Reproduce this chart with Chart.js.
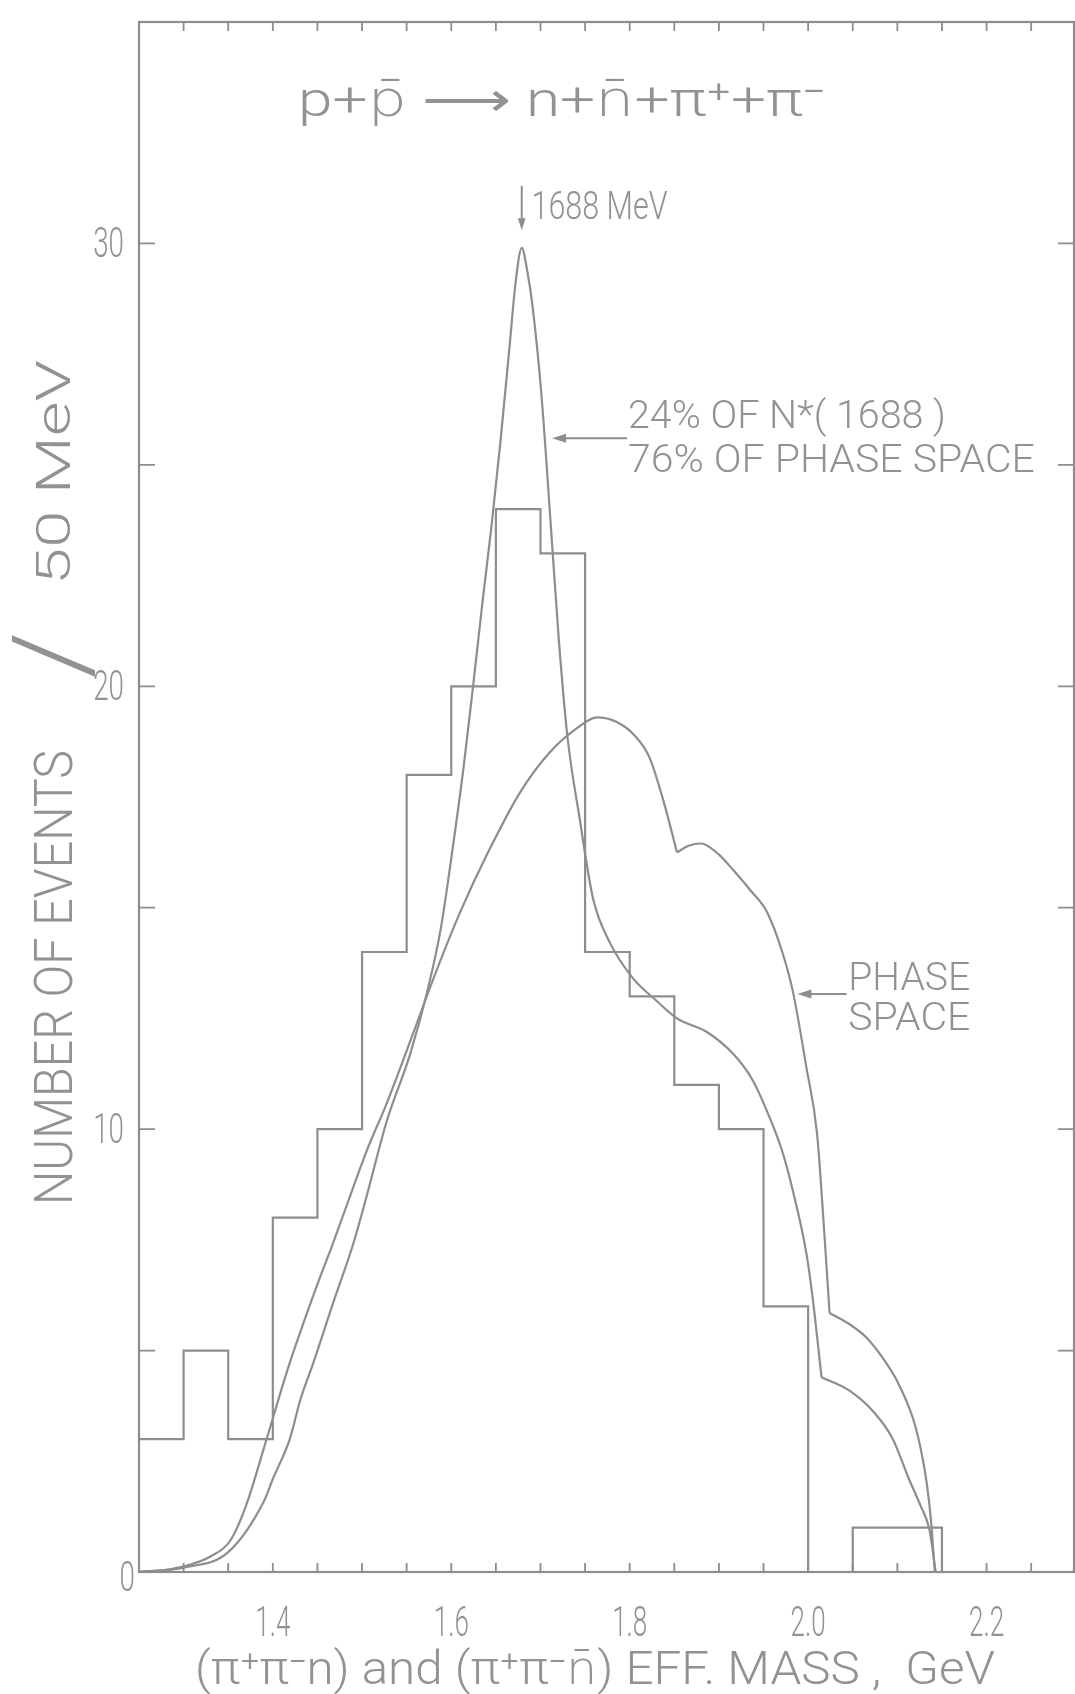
<!DOCTYPE html>
<html>
<head>
<meta charset="utf-8">
<title>p p̄ → n n̄ π+ π− : (π+π−n) and (π+π−n̄) effective mass</title>
<script src="https://cdn.jsdelivr.net/npm/chart.js@4.4.1/dist/chart.umd.min.js"></script>
<style>
html,body{margin:0;padding:0;background:#ffffff;}
#box{position:relative;width:1075px;height:1694px;}
canvas{display:block;}
</style>
</head>
<body>
<div id="box"><canvas id="chart" width="1075" height="1694"></canvas></div>
<script>
// ---------------- data ----------------
// histogram: left edge of each 50 MeV bin (GeV) and number of events in it
const binEdges    = [1.25,1.30,1.35,1.40,1.45,1.50,1.55,1.60,1.65,1.70,1.75,1.80,1.85,1.90,1.95,2.00,2.05,2.10,2.15];
const eventCounts = [3,   5,   3,   8,   10,  14,  18,  20,  24,  23,  14,  13,  11,  10,  6,   0,   1,   1,   0];

// pure phase-space curve
const psMass   = [1.250,1.280,1.305,1.330,1.352,1.370,1.393,1.417,1.450,1.467,1.485,1.505,1.528,1.558,1.580,1.610,1.640,1.677,1.710,1.744,1.763,1.785,1.805,1.822,1.838,1.853,
                  1.866,1.880,1.900,1.916,1.935,1.954,1.971,1.983,1.998,2.010,2.017,2.024,
                  2.046,2.065,2.083,2.100,2.117,2.126,2.133,2.138,2.142];
const psEvents = [0,0.05,0.15,0.35,0.7,1.5,3.0,4.6,6.5,7.4,8.4,9.5,10.6,12.2,13.4,14.9,16.2,17.6,18.5,19.1,19.3,19.2,18.9,18.4,17.4,16.25,
                  16.4,16.45,16.2,15.85,15.4,14.9,14.0,13.1,11.4,9.9,8.0,5.85,
                  5.6,5.3,4.85,4.3,3.5,2.8,2.0,1.1,0];
const psKinks  = [1.853, 2.024];

// 24% N*(1688) + 76% phase space curve
const fitMass   = [1.250,1.300,1.350,1.390,1.400,1.419,1.431,1.445,1.468,1.490,1.504,1.528,1.554,1.573,1.588,1.602,1.614,1.625,1.635,1.645,1.655,1.665,1.672,1.679,1.685,1.691,1.701,1.711,1.720,1.730,1.744,1.759,1.778,1.804,1.830,1.853,1.886,1.916,1.938,1.954,1.971,1.983,1.998,2.005,2.015,
                   2.046,2.074,2.095,2.113,2.126,2.136,2.143];
const fitEvents = [0,0.1,0.45,1.6,2.1,3.0,3.9,4.7,6.1,7.4,8.4,10.2,11.7,13.1,14.5,16.4,18.2,20.1,21.9,23.6,25.5,27.6,29.1,29.9,29.4,28.6,26.6,23.8,21.2,18.9,17.0,15.2,14.2,13.4,12.9,12.5,12.2,11.7,11.1,10.4,9.5,8.6,7.2,6.2,4.4,
                   4.1,3.6,3.0,2.1,1.5,0.95,0];
const fitKinks  = [2.015];

// axes
const xRange = [1.25, 2.298];
const yRange = [0, 35];
const xTickLabels = [1.4, 1.6, 1.8, 2.0, 2.2];
const yTickLabels = [0, 10, 20, 30];
const xMinorStep = 0.05;
const yMinorStep = 5;

// ---------------- styling ----------------
const INK = '#8d8d8d';
const TXT = '#929292';
const FONT = 'Roboto, "DejaVu Sans", "Liberation Sans", sans-serif';

function pairs(xs, ys) { return xs.map((x, i) => ({ x: x, y: ys[i] })); }
function splitAt(points, kinks) {
  const segs = [[]];
  points.forEach(p => {
    segs[segs.length - 1].push(p);
    if (kinks.some(k => Math.abs(k - p.x) < 1e-9)) segs.push([p]);
  });
  return segs.filter(s => s.length > 1);
}
function curveSet(points) {
  return { data: points, showLine: true, borderColor: INK, borderWidth: 2.2, pointRadius: 0,
           cubicInterpolationMode: 'monotone', fill: false, clip: 6 };
}

const datasets = [];
datasets.push({ data: pairs(binEdges, eventCounts), showLine: true, stepped: 'before',
                borderColor: INK, borderWidth: 2.2, pointRadius: 0, fill: false, clip: 6 });
splitAt(pairs(psMass, psEvents), psKinks).forEach(s => datasets.push(curveSet(s)));
splitAt(pairs(fitMass, fitEvents), fitKinks).forEach(s => datasets.push(curveSet(s)));

function label(ctx, str, x, y, o) {
  ctx.save();
  ctx.font = (o.weight || '300') + ' ' + o.size + 'px ' + FONT;
  ctx.fillStyle = o.color || TXT;
  ctx.textBaseline = o.baseline || 'alphabetic';
  const natural = ctx.measureText(str).width;
  const sx = o.width ? o.width / natural : (o.squeeze || 1);
  ctx.translate(x, y);
  if (o.rotate) ctx.rotate(o.rotate);
  ctx.scale(sx, 1);
  ctx.textAlign = o.align || 'left';
  ctx.fillText(str, 0, 0);
  ctx.restore();
}
function arrow(ctx, x1, y1, x2, y2, head) {
  const a = Math.atan2(y2 - y1, x2 - x1);
  ctx.save();
  ctx.strokeStyle = INK; ctx.fillStyle = INK; ctx.lineWidth = 2;
  ctx.beginPath(); ctx.moveTo(x1, y1); ctx.lineTo(x2 - Math.cos(a) * head * 0.6, y2 - Math.sin(a) * head * 0.6); ctx.stroke();
  ctx.beginPath();
  ctx.moveTo(x2, y2);
  ctx.lineTo(x2 - head * Math.cos(a) + head * 0.32 * Math.sin(a), y2 - head * Math.sin(a) - head * 0.32 * Math.cos(a));
  ctx.lineTo(x2 - head * Math.cos(a) - head * 0.32 * Math.sin(a), y2 - head * Math.sin(a) + head * 0.32 * Math.cos(a));
  ctx.closePath(); ctx.fill();
  ctx.restore();
}

const paper = {
  id: 'paper',
  beforeDraw(chart) {
    const c = chart.ctx;
    c.save(); c.fillStyle = '#ffffff'; c.fillRect(0, 0, chart.width, chart.height); c.restore();
  },
  afterDatasetsDraw(chart) {
    const c = chart.ctx, a = chart.chartArea, X = chart.scales.x, Y = chart.scales.y;
    const px = v => X.getPixelForValue(v), py = v => Y.getPixelForValue(v);
    c.save();
    // frame
    c.strokeStyle = INK; c.lineWidth = 2.2;
    c.strokeRect(a.left, a.top, a.right - a.left, a.bottom - a.top);
    // inward tick marks
    c.lineWidth = 1.8;
    c.beginPath();
    const nx = Math.round((xRange[1] - xRange[0]) / xMinorStep);
    for (let i = 1; i <= nx; i++) {
      const x = px(xRange[0] + i * xMinorStep);
      if (x >= a.right - 2) continue;
      c.moveTo(x, a.bottom); c.lineTo(x, a.bottom - 9);
      c.moveTo(x, a.top); c.lineTo(x, a.top + 9);
    }
    const ny = Math.round((yRange[1] - yRange[0]) / yMinorStep);
    for (let i = 1; i < ny; i++) {
      const y = py(yRange[0] + i * yMinorStep);
      c.moveTo(a.left, y); c.lineTo(a.left + 16, y);
      c.moveTo(a.right, y); c.lineTo(a.right - 16, y);
    }
    c.stroke();
    c.restore();

    // tick labels
    xTickLabels.forEach(v => label(c, v.toFixed(1), px(v), 1636, { size: 42, squeeze: 0.62, align: 'center' }));
    yTickLabels.forEach(v => label(c, String(v), v === 0 ? 135 : 124, py(v) + (v === 0 ? 8 : 3),
      { size: 42, squeeze: 0.66, align: 'right', baseline: 'middle' }));

    // axis titles
    label(c, '(π\u207Aπ\u207Bn) and (π\u207Aπ\u207Bn\u0304) EFF. MASS ,  GeV', 195, 1684, { size: 46, width: 800 });
    label(c, 'NUMBER OF EVENTS', 72, 1205, { size: 54, width: 455, rotate: -Math.PI / 2 });
    label(c, '/', 88, 655, { size: 108, squeeze: 1.1, align: 'center', rotate: -Math.PI / 2 });
    label(c, '50 MeV', 70, 585, { size: 48, width: 225, rotate: -Math.PI / 2 });

    // reaction
    label(c, 'p+p\u0304 \u27F6 n+n\u0304+π\u207A+π\u207B', 298, 116, { size: 49, width: 527 });

    // annotations (anchored in data space)
    arrow(c, px(1.679), py(31.3), px(1.679), py(30.3), 12);
    label(c, '1688 MeV', px(1.690), py(30.55), { size: 38, width: 136 });

    label(c, '24% OF N*( 1688 )', px(1.798), py(25.83), { size: 38, width: 318 });
    label(c, '76% OF PHASE SPACE', px(1.798), py(24.84), { size: 38, width: 407 });
    arrow(c, px(1.797), py(25.60), px(1.713), py(25.60), 14);

    label(c, 'PHASE', px(2.045), py(13.14), { size: 39, width: 122 });
    label(c, 'SPACE', px(2.045), py(12.24), { size: 39, width: 122 });
    arrow(c, px(2.043), py(13.05), px(1.988), py(13.05), 14);
  }
};

new Chart(document.getElementById('chart'), {
  type: 'scatter',
  data: { datasets: datasets },
  options: {
    responsive: false,
    animation: false,
    devicePixelRatio: 1,
    layout: { padding: { top: 22, right: 1, left: 0, bottom: 0 } },
    plugins: { legend: { display: false }, tooltip: { enabled: false } },
    events: [],
    scales: {
      x: { type: 'linear', min: xRange[0], max: xRange[1], position: 'bottom',
           ticks: { display: false }, grid: { display: false }, border: { display: false },
           afterFit(s) { s.height = 122; } },
      y: { type: 'linear', min: yRange[0], max: yRange[1], position: 'left',
           ticks: { display: false }, grid: { display: false }, border: { display: false },
           afterFit(s) { s.width = 139; } }
    }
  },
  plugins: [paper]
});
</script>
</body>
</html>
